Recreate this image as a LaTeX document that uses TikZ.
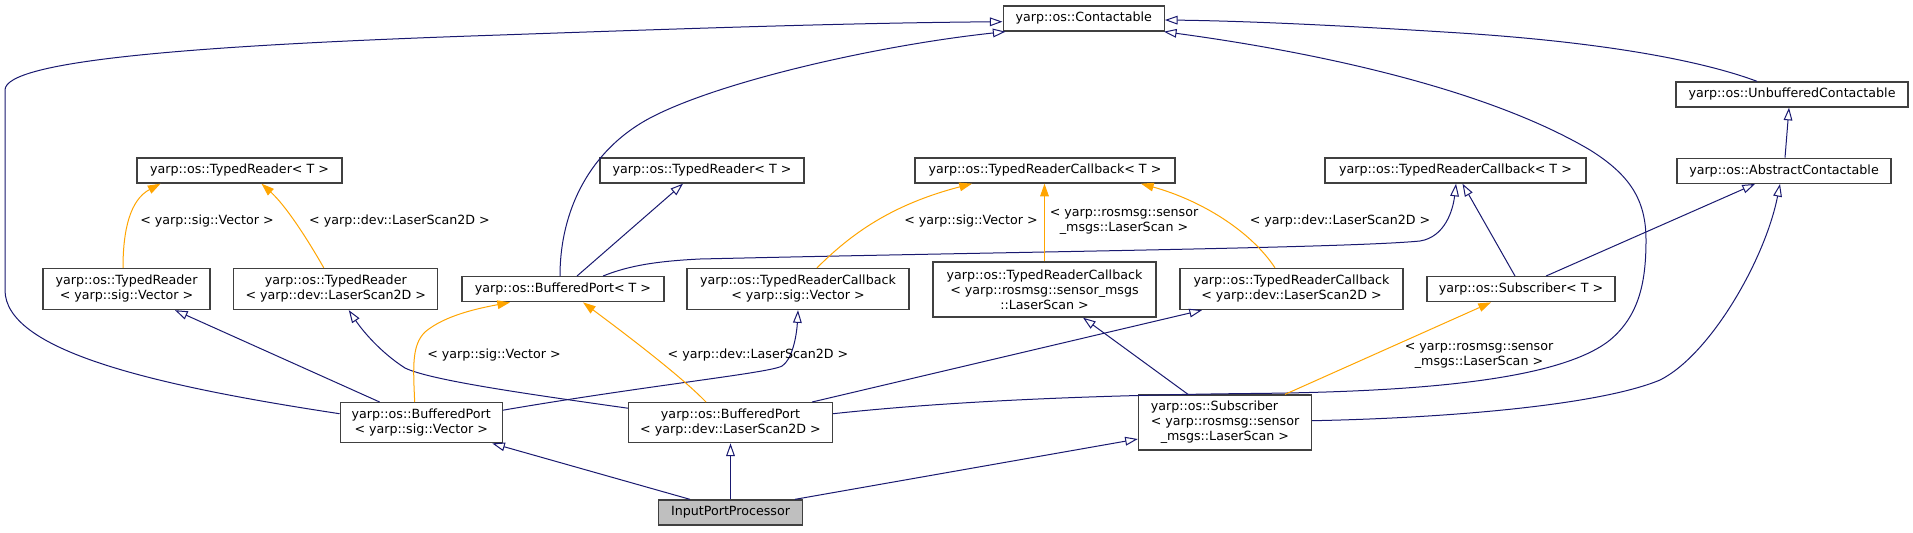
\documentclass[tikz,border=0pt]{standalone}
\usepackage{fontspec}
\setmainfont{DejaVu Sans}
\usetikzlibrary{arrows.meta,calc}
\definecolor{navy}{HTML}{191970}
\definecolor{orng}{HTML}{FFA500}
\definecolor{boxc}{HTML}{404040}
\definecolor{mainfill}{HTML}{BFBFBF}
\begin{document}
\begin{tikzpicture}[x=0.75pt,y=-0.75pt,
  box/.style={draw=boxc, line width=1pt, fill=white, inner sep=0pt, align=center, font=\fontsize{9.5}{11.25}\selectfont},
  sz/.style 2 args={minimum width=#1*0.75pt, minimum height=#2*0.75pt},
  inh/.style={draw=navy, line width=0.75pt, -{Triangle[open,length=9.5pt,width=6.5pt]}},
  tpl/.style={draw=orng, line width=0.75pt, -{Triangle[length=9.5pt,width=6.5pt,fill=orng]}},
  lab/.style={font=\fontsize{9.5}{11.25}\selectfont, align=center, inner sep=0pt}]
\useasboundingbox[fill=white] (0,0) rectangle (1913,532);
% row 1-3
\node[box, sz={161}{25}] (contact) at (1083.7,18.5) {yarp::os::Contactable};
\node[box, sz={232}{25}] (unbuf) at (1792,94.5) {yarp::os::UnbufferedContactable};
\node[box, sz={205}{25}] (trT) at (239.5,170.5) {yarp::os::TypedReader< T >};
\node[box, sz={204}{25}] (trT2) at (702,170.5) {yarp::os::TypedReader< T >};
\node[box, sz={260}{25}] (trcbT) at (1045,170.5) {yarp::os::TypedReaderCallback< T >};
\node[box, sz={261}{25}] (trcbT2) at (1455.5,170.5) {yarp::os::TypedReaderCallback< T >};
\node[box, sz={214}{25}] (abstr) at (1784,170.8) {yarp::os::AbstractContactable};
% row 4
\node[box, sz={167}{41}] (trVec) at (126.5,289) {yarp::os::TypedReader\\< yarp::sig::Vector >};
\node[box, sz={204}{41}] (trLS) at (335.8,289) {yarp::os::TypedReader\\< yarp::dev::LaserScan2D >};
\node[box, sz={202}{25}] (bpT) at (563,289.2) {yarp::os::BufferedPort< T >};
\node[box, sz={222}{41}] (trcbVec) at (798,289) {yarp::os::TypedReaderCallback\\< yarp::sig::Vector >};
\node[box, sz={223}{55}] (trcbRos) at (1044.5,289.5) {yarp::os::TypedReaderCallback\\< yarp::rosmsg::sensor\_msgs\\::LaserScan >};
\node[box, sz={223}{41}] (trcbLS) at (1291.5,289) {yarp::os::TypedReaderCallback\\< yarp::dev::LaserScan2D >};
\node[box, sz={188}{25}] (subT) at (1521,289.2) {yarp::os::Subscriber< T >};
% row 5
\node[box, sz={162}{40}] (bpVec) at (421.2,422.7) {yarp::os::BufferedPort\\< yarp::sig::Vector >};
\node[box, sz={204}{40}] (bpLS) at (730.5,422.7) {yarp::os::BufferedPort\\< yarp::dev::LaserScan2D >};
\node[box, sz={173}{55}, align=left] (subRos) at (1225,422.5) {yarp::os::Subscriber\\< yarp::rosmsg::sensor\\\hspace*{7.5pt}\_msgs::LaserScan >};
% row 6
\node[box, sz={144}{25}, fill=mainfill] (ipp) at (730.5,512.5) {InputPortProcessor};

% inheritance edges
\draw[inh] ($(bpVec.west)+(0,-9)$) .. controls (150,385) and (5,350) .. (5,290) -- (5,90) .. controls (5,60) and (200,45) .. (500,35) .. controls (700,28) and (850,23) .. ($(contact.west)+(0,3.2)$);
\draw[inh] ($(bpT.north)+(-3,0)$) .. controls (560,210) and (590,150) .. (650,118) .. controls (720,81) and (880,45) .. ($(contact.south west)+(3,0)$);
\draw[inh] ($(bpLS.east)+(0,-9)$) .. controls (950,401) and (1100,395) .. (1250,393.5) .. controls (1420,392) and (1560,380) .. (1610,340) .. controls (1640,315) and (1646,280) .. (1646,240) .. controls (1646,200) and (1630,175) .. (1590,150) .. controls (1480,85) and (1300,50) .. ($(contact.south east)+(-1,0)$);
\draw[inh] ($(subRos.east)+(0,-1.8)$) .. controls (1450,418) and (1600,405) .. (1660,380) .. controls (1710,355) and (1765,260) .. ($(abstr.south)+(-4,0)$);
\draw[inh] ($(bpLS.north)+(81.5,0)$) -- ($(trcbLS.south)+(-89.5,0)$);
\draw[inh] ($(subRos.north)+(-37,0)$) -- ($(trcbRos.south)+(38.5,0)$);
\draw[inh] ($(ipp.north)+(64.5,0)$) -- ($(subRos.west)+(0,16.5)$);
\draw[inh] (ipp.north) -- (bpLS.south);
\draw[inh] ($(ipp.north)+(-40.5,0)$) -- ($(bpVec.south)+(71,0)$);
\draw[inh] ($(bpVec.north)+(-41.5,0)$) -- ($(trVec.south)+(48.5,0)$);
\draw[inh] ($(bpLS.west)+(0,-14.5)$) .. controls (520,393) and (430,380) .. (405,368) .. controls (380,352) and (362,330) .. ($(trLS.south)+(13,0)$);
\draw[inh] ($(bpVec.east)+(0,-12.5)$) .. controls (650,385) and (770,373) .. (782,366) .. controls (794,358) and (797,330) .. (trcbVec.south);
\draw[inh] ($(bpT.north)+(14,0)$) -- ($(trT2.south)+(-19,0)$);
\draw[inh] ($(bpT.north)+(40,0)$) .. controls (630,265) and (660,261) .. (700,259) .. controls (1000,252) and (1350,248) .. (1420,241) .. controls (1445,237) and (1453,210) .. ($(trcbT2.south)+(0.5,0)$);
\draw[inh] ($(subT.north)+(-6,0)$) -- ($(trcbT2.south)+(7,0)$);
\draw[inh] ($(subT.north)+(25,0)$) -- ($(abstr.south)+(-29,0)$);
\draw[inh] ($(abstr.north)+(1,0)$) -- ($(unbuf.south)+(-3,0)$);
\draw[inh] ($(unbuf.north)+(-35,0)$) .. controls (1700,60) and (1600,42) .. (1460,33) .. controls (1350,26) and (1250,21) .. ($(contact.east)+(0,1.5)$);

% template edges
\draw[tpl] ($(trVec.north)+(-3.5,0)$) .. controls (123,230) and (130,200) .. ($(trT.south)+(-79,0)$);
\draw[tpl] ($(trLS.north)+(-12,0)$) .. controls (305,235) and (285,205) .. ($(trT.south)+(22,0)$);
\draw[tpl] ($(bpVec.north)+(-6.5,0)$) .. controls (413,365) and (412,345) .. (425,332) .. controls (445,315) and (480,308) .. ($(bpT.south)+(-53,0)$);
\draw[tpl] ($(bpLS.north)+(-24.5,0)$) .. controls (680,375) and (620,330) .. ($(bpT.south)+(20,0)$);
\draw[tpl] ($(trcbVec.north)+(19,0)$) .. controls (850,235) and (890,205) .. ($(trcbT.south)+(-73,0)$);
\draw[tpl] (trcbRos.north) -- (trcbRos.north |- trcbT.south);
\draw[tpl] ($(trcbLS.north)+(-16.5,0)$) .. controls (1250,230) and (1200,200) .. ($(trcbT.south)+(96,0)$);
\draw[tpl] ($(subRos.north)+(60,0)$) -- ($(subT.south)+(-30,0)$);

% labels
\node[lab] (la) at (207,221) {< yarp::sig::Vector >};
\node[lab] (lb) at (399.5,221) {< yarp::dev::LaserScan2D >};
\node[lab] (lc) at (494,354.5) {< yarp::sig::Vector >};
\node[lab] (ld) at (758,354.5) {< yarp::dev::LaserScan2D >};
\node[lab] (le) at (971,221) {< yarp::sig::Vector >};
\node[lab] (lf) at (1124,222) {< yarp::rosmsg::sensor\\\_msgs::LaserScan >};
\node[lab] (lg) at (1340,221) {< yarp::dev::LaserScan2D >};
\node[lab] (lh) at (1479,356) {< yarp::rosmsg::sensor\\\_msgs::LaserScan >};
\end{tikzpicture}
\end{document}
